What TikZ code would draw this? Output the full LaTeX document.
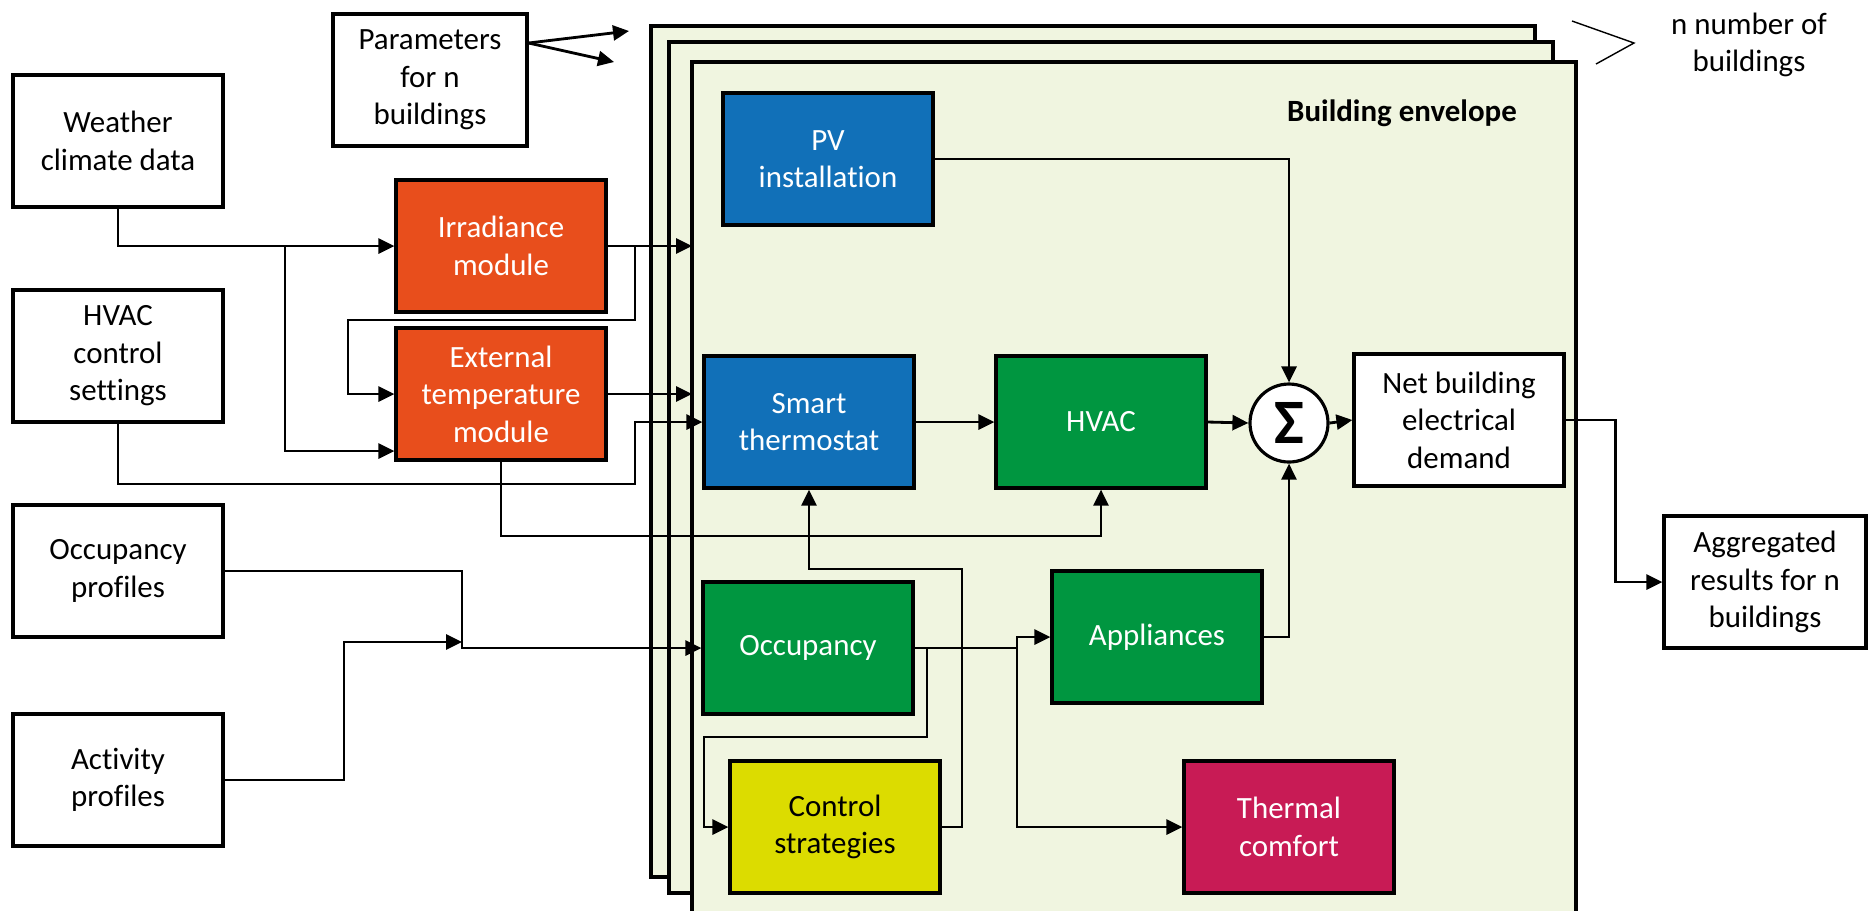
\documentclass[tikz,border=0pt]{standalone}
\usepackage{fontspec}
\setmainfont{Carlito}[Ligatures=NoCommon]
\usetikzlibrary{arrows.meta}
\definecolor{envfill}{HTML}{F0F5E0}
\definecolor{modorange}{HTML}{E84E1C}
\definecolor{devblue}{HTML}{1170B8}
\definecolor{loadgreen}{HTML}{009640}
\definecolor{ctrlyellow}{HTML}{DCDC00}
\definecolor{comfortred}{HTML}{C81B55}
\begin{document}
\begin{tikzpicture}[x=0.1mm,y=-0.1mm,
    font=\fontsize{8.8}{10.7}\selectfont,
    block/.style={draw,line width=0.9pt,minimum width=21mm,minimum height=13.2mm,align=center,inner sep=1pt},
    inblock/.style={block,fill=white},
    modblock/.style={block,fill=#1,text=white},
    layer/.style={draw,line width=0.9pt,fill=envfill},
    link/.style={line width=0.8pt,-{Triangle[length=1.6mm,width=1.5mm]}}]
  \useasboundingbox (0,0) rectangle (1868,910);
  \clip (0,0) rectangle (1868,910);
  \draw[layer] (651,26) rectangle (1535,877);
  \draw[layer] (669,42) rectangle (1553,893);
  \draw[layer] (692,62) rectangle (1576,930);
  \coordinate (env) at (692,62);
  \draw[line width=0.4pt] (1572,21) -- (1634,43) -- (1596,64);

  \node[inblock] (weather) at (118,141) {Weather\\climate data};
  \node[inblock] (hvacset) at (118,356) {HVAC\\control\\settings};
  \node[inblock] (occprof) at (118,571) {Occupancy\\profiles};
  \node[inblock] (actprof) at (118,780) {Activity\\profiles};
  \node[inblock,minimum width=19.4mm] (params) at (430,80) {Parameters\\for n\\buildings};
  \node[modblock=modorange] (irrad) at (501,246) {Irradiance\\module};
  \node[modblock=modorange] (exttemp) at (501,394) {External\\temperature\\module};
  \node[modblock=devblue] (pv) at (828,159) {PV\\installation};
  \node[modblock=devblue] (thermo) at (809,422) {Smart\\thermostat};
  \node[modblock=loadgreen] (hvac) at (1101,422) {HVAC};
  \node[draw,circle,fill=white,line width=0.9pt,minimum size=7.8mm,inner sep=0pt,
    font=\fontsize{18}{18}\selectfont\bfseries] (sum) at (1289,423) {Σ};
  \node[inblock] (net) at (1459,420) {Net building\\electrical\\demand};
  \node[inblock,minimum width=20.2mm] (agg) at (1765,582) {Aggregated\\results for n\\buildings};
  \node[modblock=loadgreen] (occ) at (808,648) {Occupancy};
  \node[modblock=loadgreen] (appl) at (1157,637) {Appliances};
  \node[block,fill=ctrlyellow] (ctrl) at (835,827) {Control\\strategies};
  \node[modblock=comfortred] (comfort) at (1289,827) {Thermal\\comfort};
  \node[font=\fontsize{8.8}{10.7}\selectfont\bfseries] (envtitle) at (1402,113) {Building envelope};
  \node[align=center] (count) at (1749,45) {n number of\\buildings};

  \coordinate (p1) at (629,31);
  \coordinate (p2) at (614,62);
  \coordinate (wsplit) at (285,246);
  \coordinate (isplit) at (635,246);
  \coordinate (ibend) at (348,320);
  \coordinate (hbend) at (635,484);
  \coordinate (ebend) at (1101,536);
  \coordinate (ojoin) at (462,648);
  \coordinate (abend) at (344,642);
  \coordinate (osplit) at (1017,648);
  \coordinate (csplit) at (927,648);
  \coordinate (cbend) at (704,737);
  \coordinate (tbend) at (962,569);

  \begin{scope}[link]
    \draw ([yshift=3.7mm]params.east) -- (p1);
    \draw ([yshift=3.7mm]params.east) -- (p2);
    \draw (weather.south) |- (irrad.west);
    \draw (wsplit) |- ([yshift=-5.7mm]exttemp.west);
    \draw (irrad.east) -- (irrad.east -| env);
    \draw (isplit) |- (ibend) |- (exttemp.west);
    \draw (exttemp.east) -- (exttemp.east -| env);
    \draw (hvacset.south) |- (hbend) |- (thermo.west);
    \draw (exttemp.south) |- (ebend) -- (hvac.south);
    \draw (pv.east) -| (sum.north);
    \draw (thermo.east) -- (hvac.west);
    \draw (hvac.east) -- (sum.west);
    \draw (sum.east) -- (net.west);
    \draw (appl.east) -| (sum.south);
    \draw (net.east) -- ++(50,0) |- (agg.west);
    \draw (occprof.east) -| (ojoin) -- (occ.west);
    \draw (actprof.east) -| (abend) -- (abend -| ojoin);
    \draw (occ.east) -- (osplit) |- (appl.west);
    \draw (osplit) |- (comfort.west);
    \draw (csplit) |- (cbend) |- (ctrl.west);
    \draw (ctrl.east) -| (tbend) -| (thermo.south);
  \end{scope}
\end{tikzpicture}
\end{document}
